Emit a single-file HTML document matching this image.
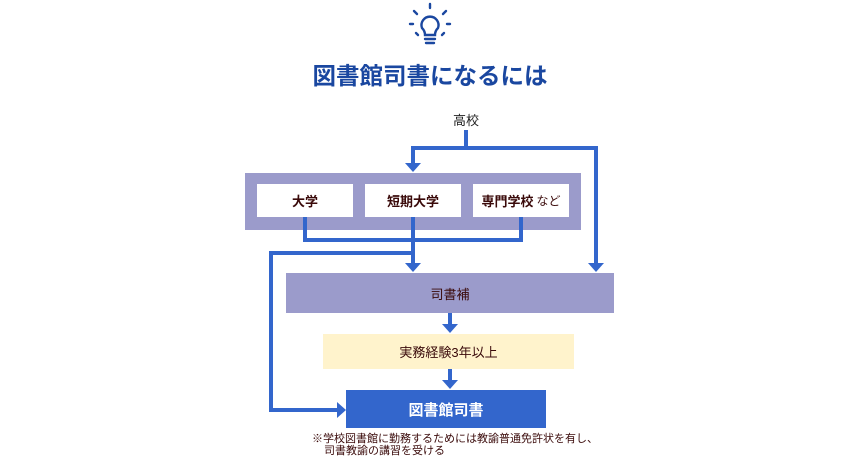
<!DOCTYPE html>
<html><head><meta charset="utf-8"><style>
body{margin:0;width:859px;height:472px;background:#fff;position:relative;overflow:hidden;font-family:"Liberation Sans","Noto Sans CJK JP",sans-serif}
.a{position:absolute}
.t{position:absolute;display:flex;align-items:center;justify-content:center;color:#3a0a0a}
</style></head><body>
<svg class="a" style="left:0;top:0" width="859" height="472">
<g stroke="#1a47a0" stroke-width="2.4" fill="none" stroke-linecap="round">
<path d="M425 35 Q425 31 422 28 A8.5 8.5 0 1 1 438 28 Q435 31 435 35 Z"/>
<line x1="425" y1="39" x2="435" y2="39"/><line x1="426" y1="43" x2="434" y2="43"/>
<line x1="430" y1="4" x2="430" y2="8"/><line x1="414" y1="11" x2="417" y2="14"/><line x1="446" y1="11" x2="443" y2="14"/>
<line x1="410" y1="24" x2="413" y2="24"/><line x1="447" y1="24" x2="450" y2="24"/>
<line x1="416" y1="33" x2="418" y2="35"/><line x1="444" y1="33" x2="442" y2="35"/>
</g>
<rect x="245" y="173" width="336" height="57" fill="#9b9bcb"/>
<rect x="257" y="184" width="96" height="33" fill="#fff"/>
<rect x="365" y="184" width="96" height="33" fill="#fff"/>
<rect x="473" y="184" width="96" height="33" fill="#fff"/>
<rect x="286" y="273" width="328" height="40" fill="#9b9bcb"/>
<rect x="323" y="334" width="251" height="35" fill="#fff3cc"/>
<rect x="346" y="390" width="200" height="38" fill="#3366cc"/>
<g stroke="#3366cc" stroke-width="4" fill="none">
<polyline points="466,130 466,148"/>
<polyline points="413,164 413,148 596,148 596,264"/>
<polyline points="305,217 305,240 521,240 521,217"/>
<polyline points="413,217 413,264"/>
<polyline points="413,253 271,253 271,410 338,410"/>
<line x1="450" y1="313" x2="450" y2="326"/>
<line x1="450" y1="369" x2="450" y2="382"/>
</g>
<g fill="#3366cc">
<polygon points="405,163 421,163 413,172"/>
<polygon points="588,263 604,263 596,272"/>
<polygon points="405,263 421,263 413,272"/>
<polygon points="442,324 458,324 450,333"/>
<polygon points="442,380 458,380 450,389"/>
<polygon points="337,402 337,418 346,410"/>
</g>
</svg>
<div class="t" style="left:280px;top:58px;width:300px;height:32px;font-size:23.5px;font-weight:bold;color:#1a47a0">図書館司書になるには</div>
<div class="t" style="left:436px;top:111px;width:60px;height:16px;font-size:13px;color:#222">高校</div>
<div class="t" style="left:257px;top:184px;width:96px;height:33px;font-size:13px;font-weight:bold">大学</div>
<div class="t" style="left:365px;top:184px;width:96px;height:33px;font-size:13px;font-weight:bold">短期大学</div>
<div class="t" style="left:473px;top:184px;width:96px;height:33px;font-size:13px;font-weight:bold">専門学校<span style="font-weight:normal;font-size:12px;margin-left:3px">など</span></div>
<div class="t" style="left:286px;top:273px;width:328px;height:40px;font-size:13px">司書補</div>
<div class="t" style="left:323px;top:334px;width:251px;height:35px;font-size:13px">実務経験3年以上</div>
<div class="t" style="left:346px;top:390px;width:200px;height:38px;font-size:15px;font-weight:bold;color:#fff">図書館司書</div>
<div class="a" style="left:312px;top:433px;font-size:11px;line-height:12px;color:#3a0a0a">※学校図書館に勤務するためには教諭普通免許状を有し、<br><span style="padding-left:12px">司書教諭の講習を受ける</span></div>
</body></html>
